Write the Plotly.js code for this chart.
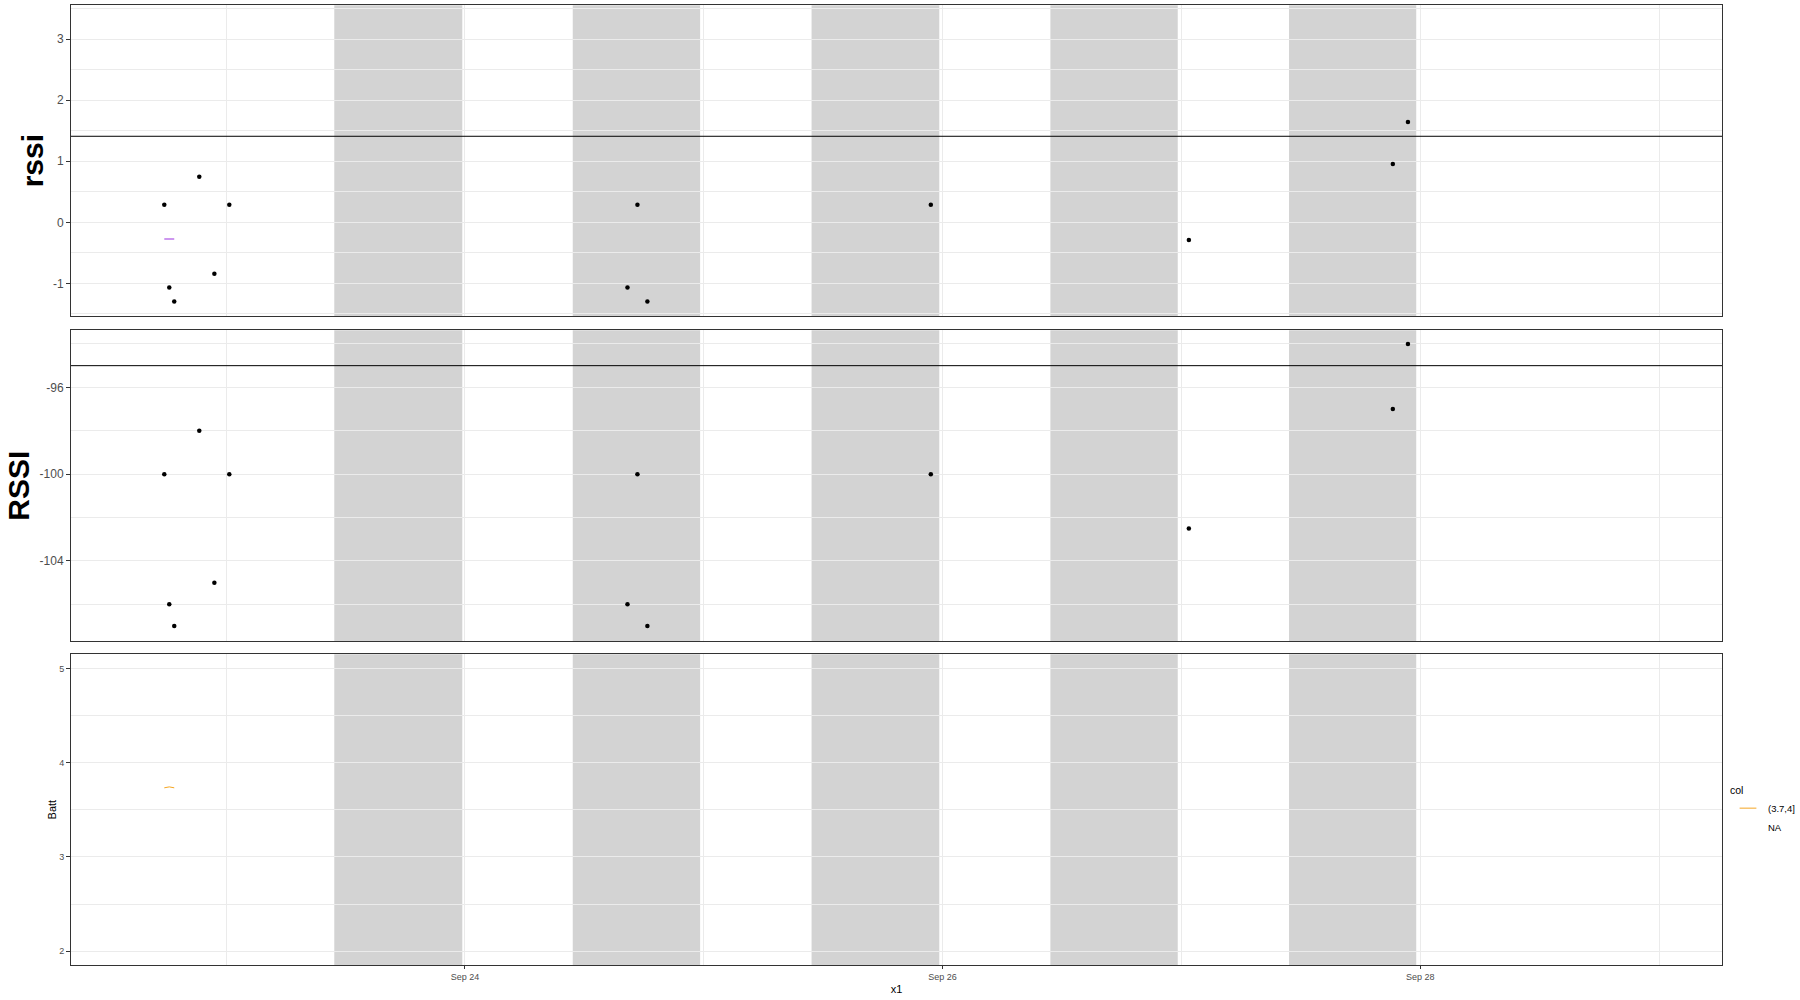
<!DOCTYPE html>
<html>
<head>
<meta charset="utf-8">
<script src="https://cdn.plot.ly/plotly-3.0.1.min.js"></script>
<style>
html,body{margin:0;padding:0;background:#fff;}
#chart{width:1800px;height:1000px;}
</style>
</head>
<body>
<div id="chart"></div>
<script>
// ---------------- data ----------------
const times = ['2021-09-22 17:47','2021-09-22 18:17','2021-09-22 18:47','2021-09-22 21:18','2021-09-22 22:49','2021-09-23 00:19',
               '2021-09-24 16:20','2021-09-24 17:20','2021-09-24 18:20','2021-09-25 22:49','2021-09-27 00:45','2021-09-27 21:15','2021-09-27 22:46'];
const RSSI = [-100,-106,-107,-98,-105,-100,-106,-100,-107,-100,-102.5,-97,-94];
const rssi = [0.289,-1.07,-1.30,0.748,-0.843,0.289,-1.07,0.289,-1.30,0.289,-0.29,0.956,1.644];

const lineTimes = ['2021-09-22 17:47','2021-09-22 18:17','2021-09-22 18:47'];
const rssiLine = [-0.274,-0.274,-0.274];
const batt = [3.733,3.743,3.733];

const nightStart = ['2021-09-23 10:52','2021-09-24 10:50','2021-09-25 10:50','2021-09-26 10:50','2021-09-27 10:49'];
const nightEnd   = ['2021-09-23 23:44','2021-09-24 23:38','2021-09-25 23:40','2021-09-26 23:38','2021-09-27 23:36'];

const rssiThreshold = 1.41;
const RSSIThreshold = -95;

// tick labels
const rssiTickVals = [-1, 0, 1, 2, 3];
const rssiTickText = ['-1', '0', '1', '2', '3'];
const RSSITickVals = [-104, -100, -96];
const RSSITickText = ['-104', '-100', '-96'];
const battTickVals = [2, 3, 4, 5];
const battTickText = ['2', '3', '4', '5'];

const legendTitle = 'col';
const legendLabels = ['(3.7,4]', 'NA'];

// ---------------- layout helpers ----------------
const FONT = 'Liberation Sans, Arial, sans-serif';
const TOP = 5, BOT = 965, H = BOT - TOP;
const LEFT = 71, RIGHT = 1722, W = RIGHT - LEFT;
function dom(topPx, botPx){ return [(BOT-botPx)/H, (BOT-topPx)/H]; }
const xRange = ['2021-09-22 08:24:30','2021-09-29 06:19:45'];
const GRID = '#EBEBEB', FRAME = '#333333', TICKC = '#4D4D4D';

function xAxis(anchor, showLabels){
  return {
    anchor: anchor, range: xRange, type: 'date',
    showline: true, mirror: true, linecolor: FRAME, linewidth: 1,
    showgrid: true, gridcolor: GRID, gridwidth: 1, zeroline: false,
    tick0: '2021-09-24', dtick: 2*86400000, tickformat: '%b %d',
    minor: {tick0: '2021-09-23', dtick: 86400000, showgrid: true, gridcolor: GRID, gridwidth: 1},
    ticks: showLabels ? 'outside' : '', ticklen: 3, tickcolor: FRAME,
    showticklabels: showLabels,
    tickfont: {family: FONT, size: 9, color: TICKC}
  };
}
function yAxis(anchor, domain, range, tickvals, ticktext, minorDtick, minorTick0, tickSize, title, titleSize, bold, standoff){
  return {
    anchor: anchor, domain: domain, range: range,
    showline: true, mirror: true, linecolor: FRAME, linewidth: 1,
    showgrid: true, gridcolor: GRID, gridwidth: 1, zeroline: false,
    tickmode: 'array', tickvals: tickvals, ticktext: ticktext,
    minor: {tickmode: 'linear', tick0: minorTick0, dtick: minorDtick, showgrid: true, gridcolor: GRID, gridwidth: 1},
    ticks: 'outside', ticklen: 4, tickcolor: FRAME,
    tickfont: {family: FONT, size: tickSize, color: TICKC},
    title: {text: bold ? '<b>'+title+'</b>' : title, font: {family: FONT, size: titleSize, color: '#000'}, standoff: standoff},
    automargin: true
  };
}

const traces = [
  {x: times, y: rssi, xaxis: 'x', yaxis: 'y', type: 'scatter', mode: 'markers',
   marker: {color: '#000', size: 4.5}, showlegend: false},
  {x: lineTimes, y: rssiLine, xaxis: 'x', yaxis: 'y', type: 'scatter', mode: 'lines',
   line: {color: '#9B30E0', width: 1.1}, showlegend: false},
  {x: times, y: RSSI, xaxis: 'x2', yaxis: 'y2', type: 'scatter', mode: 'markers',
   marker: {color: '#000', size: 4.5}, showlegend: false},
  {x: lineTimes, y: batt, xaxis: 'x3', yaxis: 'y3', type: 'scatter', mode: 'lines',
   line: {color: '#F5A623', width: 1}, showlegend: false},
  // legend entries
  {x: [null], y: [null], xaxis: 'x3', yaxis: 'y3', type: 'scatter', mode: 'markers', name: legendLabels[0],
   marker: {symbol: 'line-ew-open', size: 12, color: '#F5A623', line: {color: '#F5A623', width: 1}}, showlegend: true},
  {x: [null], y: [null], xaxis: 'x3', yaxis: 'y3', type: 'scatter', mode: 'markers', name: legendLabels[1],
   marker: {symbol: 'line-ew-open', size: 12, color: 'rgba(0,0,0,0)', line: {color: 'rgba(0,0,0,0)', width: 1}}, showlegend: true}
];

const shapes = [];
['', '2', '3'].forEach(function(s){
  for (let i = 0; i < nightStart.length; i++){
    shapes.push({type: 'rect', layer: 'below', xref: 'x'+s, yref: 'y'+s+' domain',
      x0: nightStart[i], x1: nightEnd[i], y0: 0, y1: 1,
      fillcolor: '#D3D3D3', line: {width: 0}});
  }
});
shapes.push({type: 'line', layer: 'above', xref: 'x domain', yref: 'y', x0: 0, x1: 1,
  y0: rssiThreshold, y1: rssiThreshold, line: {color: '#000', width: 1}});
shapes.push({type: 'line', layer: 'above', xref: 'x2 domain', yref: 'y2', x0: 0, x1: 1,
  y0: RSSIThreshold, y1: RSSIThreshold, line: {color: '#000', width: 1}});

const layout = {
  width: 1800, height: 1000,
  margin: {l: LEFT, r: 1800 - RIGHT, t: TOP, b: 1000 - BOT, pad: 0, autoexpand: false},
  paper_bgcolor: '#fff', plot_bgcolor: '#fff',
  font: {family: FONT, color: '#000'},
  showlegend: true,
  legend: {
    x: (1728 - LEFT)/W, xanchor: 'left', y: (BOT - 780)/H, yanchor: 'top',
    title: {text: legendTitle, font: {family: FONT, size: 10.5, color: '#000'}},
    font: {family: FONT, size: 9.5, color: '#000'},
    bgcolor: 'rgba(0,0,0,0)', borderwidth: 0, tracegroupgap: 0
  },
  xaxis: xAxis('y', false),
  xaxis2: Object.assign(xAxis('y2', false), {matches: 'x'}),
  xaxis3: Object.assign(xAxis('y3', true), {matches: 'x',
     title: {text: 'x1', font: {family: FONT, size: 11, color: '#000'}, standoff: 4}}),
  yaxis: yAxis('x', dom(5.3, 316), [-1.536, 3.557], rssiTickVals, rssiTickText, 0.5, 0, 12, 'rssi', 30, true, 0),
  yaxis2: yAxis('x2', dom(330.3, 641), [-107.69, -93.37], RSSITickVals, RSSITickText, 2, -96, 12, 'RSSI', 30, true, 1),
  yaxis3: yAxis('x3', dom(654.3, 965), [1.854, 5.149], battTickVals, battTickText, 0.5, 2, 9, 'Batt', 11, false, 0),
  shapes: shapes
};

Plotly.newPlot('chart', traces, layout, {displayModeBar: false, staticPlot: true});
</script>
</body>
</html>
